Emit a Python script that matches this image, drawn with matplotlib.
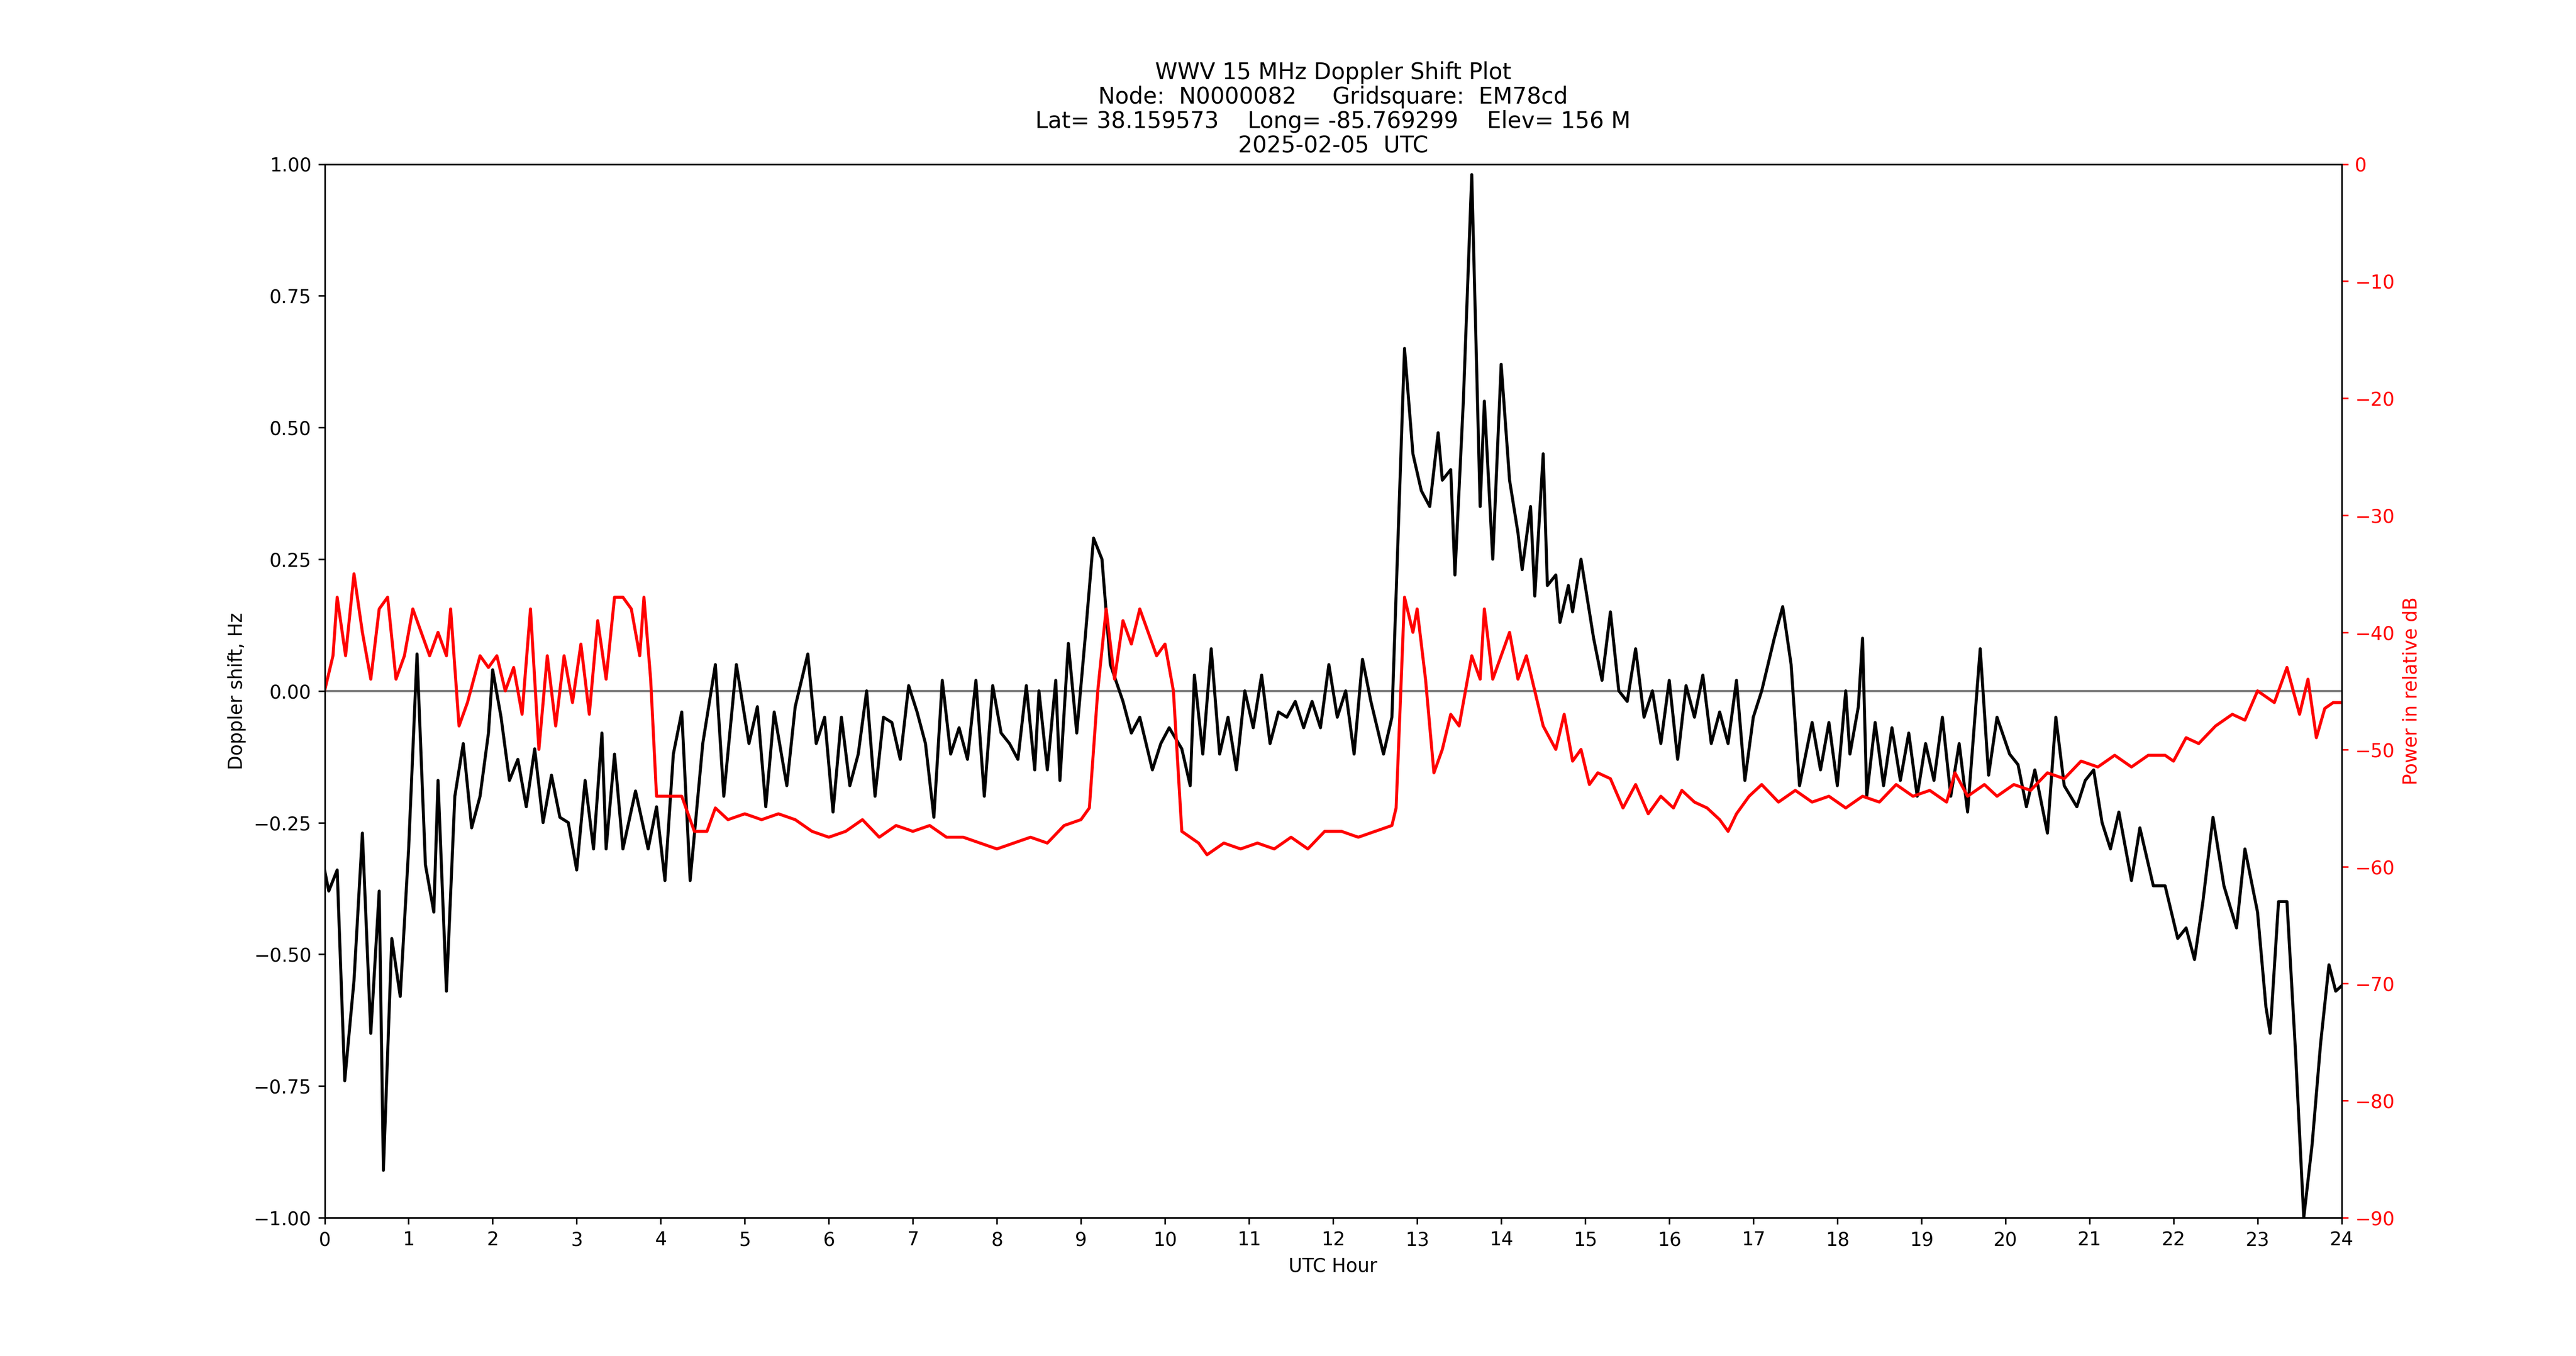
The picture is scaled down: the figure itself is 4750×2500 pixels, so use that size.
import matplotlib
matplotlib.use("Agg")
import matplotlib.pyplot as plt

dop_t = [0,0.05,0.15,0.24,0.35,0.45,0.55,0.65,0.7,0.8,0.9,1.0,1.1,1.2,1.3,1.35,1.45,1.55,1.65,1.75,1.85,1.95,2.0,2.1,2.2,2.3,2.4,2.5,2.6,2.7,2.8,2.9,3.0,3.1,3.2,3.3,3.35,3.45,3.55,3.7,3.85,3.95,4.05,4.15,4.25,4.35,4.5,4.65,4.75,4.9,5.05,5.15,5.25,5.35,5.5,5.6,5.75,5.85,5.95,6.05,6.15,6.25,6.35,6.45,6.55,6.65,6.75,6.85,6.95,7.05,7.15,7.25,7.35,7.45,7.55,7.65,7.75,7.85,7.95,8.05,8.15,8.25,8.35,8.45,8.5,8.6,8.7,8.75,8.85,8.95,9.05,9.15,9.25,9.35,9.5,9.6,9.7,9.85,9.95,10.05,10.2,10.3,10.35,10.45,10.55,10.65,10.75,10.85,10.95,11.05,11.15,11.25,11.35,11.45,11.55,11.65,11.75,11.85,11.95,12.05,12.15,12.25,12.35,12.45,12.6,12.7,12.85,12.95,13.05,13.15,13.25,13.3,13.4,13.45,13.55,13.65,13.75,13.8,13.9,14.0,14.1,14.2,14.25,14.35,14.4,14.5,14.55,14.65,14.7,14.8,14.85,14.95,15.1,15.2,15.3,15.4,15.5,15.6,15.7,15.8,15.9,16.0,16.1,16.2,16.3,16.4,16.5,16.6,16.7,16.8,16.9,17.0,17.1,17.25,17.35,17.45,17.55,17.7,17.8,17.9,18.0,18.1,18.15,18.25,18.3,18.35,18.45,18.55,18.65,18.75,18.85,18.95,19.05,19.15,19.25,19.35,19.45,19.55,19.7,19.8,19.9,20.05,20.15,20.25,20.35,20.5,20.6,20.7,20.85,20.95,21.05,21.15,21.25,21.35,21.5,21.6,21.76,21.9,22.05,22.15,22.25,22.35,22.47,22.6,22.75,22.85,23.0,23.1,23.15,23.25,23.35,23.45,23.55,23.65,23.75,23.85,23.93,24.0]
dop_v = [-0.34,-0.38,-0.34,-0.74,-0.55,-0.27,-0.65,-0.38,-0.91,-0.47,-0.58,-0.3,0.07,-0.33,-0.42,-0.17,-0.57,-0.2,-0.1,-0.26,-0.2,-0.08,0.04,-0.05,-0.17,-0.13,-0.22,-0.11,-0.25,-0.16,-0.24,-0.25,-0.34,-0.17,-0.3,-0.08,-0.3,-0.12,-0.3,-0.19,-0.3,-0.22,-0.36,-0.12,-0.04,-0.36,-0.1,0.05,-0.2,0.05,-0.1,-0.03,-0.22,-0.04,-0.18,-0.03,0.07,-0.1,-0.05,-0.23,-0.05,-0.18,-0.12,0.0,-0.2,-0.05,-0.06,-0.13,0.01,-0.04,-0.1,-0.24,0.02,-0.12,-0.07,-0.13,0.02,-0.2,0.01,-0.08,-0.1,-0.13,0.01,-0.15,0.0,-0.15,0.02,-0.17,0.09,-0.08,0.1,0.29,0.25,0.05,-0.02,-0.08,-0.05,-0.15,-0.1,-0.07,-0.11,-0.18,0.03,-0.12,0.08,-0.12,-0.05,-0.15,0.0,-0.07,0.03,-0.1,-0.04,-0.05,-0.02,-0.07,-0.02,-0.07,0.05,-0.05,0.0,-0.12,0.06,-0.02,-0.12,-0.05,0.65,0.45,0.38,0.35,0.49,0.4,0.42,0.22,0.55,0.98,0.35,0.55,0.25,0.62,0.4,0.3,0.23,0.35,0.18,0.45,0.2,0.22,0.13,0.2,0.15,0.25,0.1,0.02,0.15,0.0,-0.02,0.08,-0.05,0.0,-0.1,0.02,-0.13,0.01,-0.05,0.03,-0.1,-0.04,-0.1,0.02,-0.17,-0.05,0.0,0.1,0.16,0.05,-0.18,-0.06,-0.15,-0.06,-0.18,0.0,-0.12,-0.03,0.1,-0.2,-0.06,-0.18,-0.07,-0.17,-0.08,-0.2,-0.1,-0.17,-0.05,-0.2,-0.1,-0.23,0.08,-0.16,-0.05,-0.12,-0.14,-0.22,-0.15,-0.27,-0.05,-0.18,-0.22,-0.17,-0.15,-0.25,-0.3,-0.23,-0.36,-0.26,-0.37,-0.37,-0.47,-0.45,-0.51,-0.4,-0.24,-0.37,-0.45,-0.3,-0.42,-0.6,-0.65,-0.4,-0.4,-0.68,-1.0,-0.86,-0.67,-0.52,-0.57,-0.56]

pwr_t = [0,0.1,0.15,0.25,0.35,0.45,0.55,0.65,0.75,0.85,0.95,1.05,1.15,1.25,1.35,1.45,1.5,1.6,1.7,1.85,1.95,2.05,2.15,2.25,2.35,2.45,2.55,2.65,2.75,2.85,2.95,3.05,3.15,3.25,3.35,3.45,3.55,3.65,3.75,3.8,3.88,3.95,4.1,4.25,4.4,4.55,4.65,4.8,5.0,5.2,5.4,5.6,5.8,6.0,6.2,6.4,6.6,6.8,7.0,7.2,7.4,7.6,7.8,8.0,8.2,8.4,8.6,8.8,9.0,9.1,9.2,9.3,9.4,9.5,9.6,9.7,9.8,9.9,10.0,10.1,10.2,10.4,10.5,10.7,10.9,11.1,11.3,11.5,11.7,11.9,12.1,12.3,12.5,12.7,12.75,12.85,12.95,13.0,13.1,13.2,13.3,13.4,13.5,13.65,13.75,13.8,13.9,14.0,14.1,14.2,14.3,14.4,14.5,14.65,14.75,14.85,14.95,15.05,15.15,15.3,15.45,15.6,15.75,15.9,16.05,16.15,16.3,16.45,16.6,16.7,16.8,16.95,17.1,17.3,17.5,17.7,17.9,18.1,18.3,18.5,18.7,18.9,19.1,19.3,19.4,19.55,19.75,19.9,20.1,20.3,20.5,20.7,20.9,21.1,21.3,21.5,21.7,21.9,22.0,22.15,22.3,22.5,22.7,22.85,23.0,23.2,23.35,23.5,23.6,23.7,23.8,23.9,24.0]
pwr_v = [-45,-42,-37,-42,-35,-40,-44,-38,-37,-44,-42,-38,-40,-42,-40,-42,-38,-48,-46,-42,-43,-42,-45,-43,-47,-38,-50,-42,-48,-42,-46,-41,-47,-39,-44,-37,-37,-38,-42,-37,-44,-54,-54,-54,-57,-57,-55,-56,-55.5,-56,-55.5,-56,-57,-57.5,-57,-56,-57.5,-56.5,-57,-56.5,-57.5,-57.5,-58,-58.5,-58,-57.5,-58,-56.5,-56,-55,-45,-38,-44,-39,-41,-38,-40,-42,-41,-45,-57,-58,-59,-58,-58.5,-58,-58.5,-57.5,-58.5,-57,-57,-57.5,-57,-56.5,-55,-37,-40,-38,-44,-52,-50,-47,-48,-42,-44,-38,-44,-42,-40,-44,-42,-45,-48,-50,-47,-51,-50,-53,-52,-52.5,-55,-53,-55.5,-54,-55,-53.5,-54.5,-55,-56,-57,-55.5,-54,-53,-54.5,-53.5,-54.5,-54,-55,-54,-54.5,-53,-54,-53.5,-54.5,-52,-54,-53,-54,-53,-53.5,-52,-52.5,-51,-51.5,-50.5,-51.5,-50.5,-50.5,-51,-49,-49.5,-48,-47,-47.5,-45,-46,-43,-47,-44,-49,-46.5,-46,-46]

fig = plt.figure(figsize=(19, 10), dpi=250)
ax = fig.add_subplot(111)
fig.subplots_adjust(left=0.126, right=0.909, top=0.879, bottom=0.102)
ax.axhline(0, color='gray', lw=1.2)
ax.plot(dop_t, dop_v, color='black', lw=1.6)
ax.set_xlim(0, 24)
ax.set_ylim(-1, 1)
ax.set_xticks(range(25))
ax.set_yticks([-1, -0.75, -0.5, -0.25, 0, 0.25, 0.5, 0.75, 1.0])
ax.set_xlabel('UTC Hour')
ax.set_ylabel('Doppler shift, Hz')
ax2 = ax.twinx()
ax2.plot(pwr_t, pwr_v, color='red', lw=1.6)
ax2.set_ylim(-90, 0)
ax2.set_yticks(range(-90, 1, 10))
ax2.tick_params(axis='y', colors='red')
ax2.set_ylabel('Power in relative dB', color='red')
ax.set_title('WWV 15 MHz Doppler Shift Plot\nNode:  N0000082     Gridsquare:  EM78cd\n'
             'Lat= 38.159573    Long= -85.769299    Elev= 156 M\n2025-02-05  UTC', linespacing=1.1)
fig.savefig('out.png', dpi=250)
